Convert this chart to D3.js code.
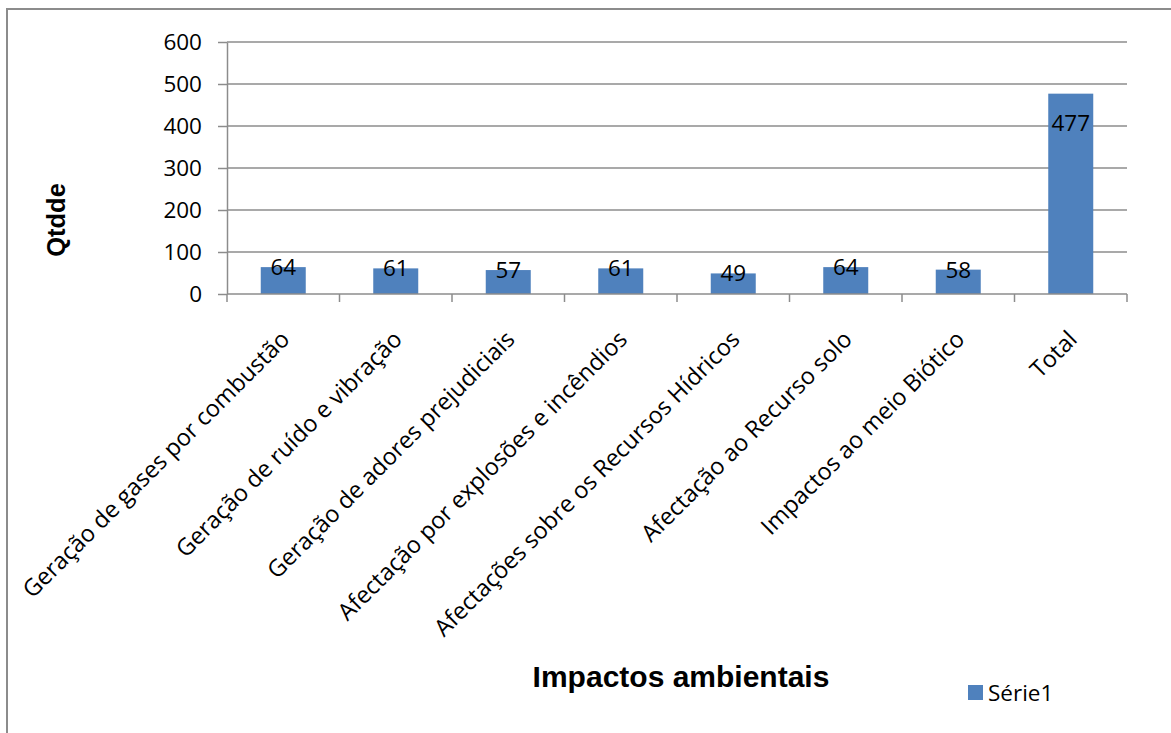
<!DOCTYPE html>
<html>
<head>
<meta charset="utf-8">
<script src="https://cdn.jsdelivr.net/npm/d3@7/dist/d3.min.js"></script>
<style>
  html, body { margin: 0; padding: 0; background: #fff; }
  svg { display: block; }
</style>
</head>
<body>
<svg id="chart" width="1171" height="733"></svg>
<script>
// Categories and values of the chart
const categories = [
  "Geração de gases por combustão",
  "Geração de ruído e vibração",
  "Geração de adores prejudiciais",
  "Afectação por explosões e incêndios",
  "Afectações sobre os Recursos Hídricos",
  "Afectação ao Recurso solo",
  "Impactos ao meio Biótico",
  "Total"
];
const values = [64, 61, 57, 61, 49, 64, 58, 477];
const yTicks = [0, 100, 200, 300, 400, 500, 600];
const seriesName = "Série1";
const xTitle = "Impactos ambientais";
const yTitle = "Qtdde";

const svg = d3.select("#chart");
const W = 1171, H = 733;
const labelFont = "'Open Sans', 'Noto Sans', sans-serif";
const titleFont = "'Liberation Sans', Arial, sans-serif";

// outer frame (runs off the right and bottom edges)
svg.append("rect")
  .attr("x", 7).attr("y", 9)
  .attr("width", W + 20).attr("height", H + 20)
  .attr("fill", "#fff")
  .attr("stroke", "#8c8c8c").attr("stroke-width", 2);

const plot = { left: 227, right: 1127, top: 42, bottom: 294 };

const x = d3.scaleBand()
  .domain(categories)
  .range([plot.left, plot.right])
  .paddingInner(0.6).paddingOuter(0.3);

const y = d3.scaleLinear()
  .domain([0, 600])
  .range([plot.bottom, plot.top]);

// horizontal gridlines
svg.append("g")
  .selectAll("line")
  .data(yTicks.filter(d => d > 0))
  .join("line")
  .attr("x1", plot.left).attr("x2", plot.right)
  .attr("y1", d => y(d)).attr("y2", d => y(d))
  .attr("stroke", "#8c8c8c").attr("stroke-width", 1.5);

// y axis
const yAxis = svg.append("g")
  .attr("transform", `translate(${plot.left},0)`)
  .call(d3.axisLeft(y).tickValues(yTicks).tickSize(9).tickPadding(16).tickSizeOuter(0));
yAxis.select(".domain").attr("stroke", "#8c8c8c").attr("stroke-width", 1.5);
yAxis.selectAll(".tick line").attr("stroke", "#8c8c8c").attr("stroke-width", 1.5);
yAxis.selectAll(".tick text")
  .attr("font-family", labelFont)
  .attr("font-size", 22.5)
  .attr("fill", "#000");

// bars
svg.append("g")
  .selectAll("rect")
  .data(values)
  .join("rect")
  .attr("x", (d, i) => x(categories[i]))
  .attr("y", d => y(d))
  .attr("width", x.bandwidth())
  .attr("height", d => y(0) - y(d))
  .attr("fill", "#4f81bd");

// x axis: baseline and category boundary ticks
const xa = svg.append("g");
xa.append("line")
  .attr("x1", plot.left).attr("x2", plot.right)
  .attr("y1", y(0)).attr("y2", y(0))
  .attr("stroke", "#8c8c8c").attr("stroke-width", 1.5);
xa.selectAll("line.tk")
  .data(d3.range(categories.length + 1))
  .join("line")
  .attr("class", "tk")
  .attr("x1", i => plot.left + i * (plot.right - plot.left) / categories.length)
  .attr("x2", i => plot.left + i * (plot.right - plot.left) / categories.length)
  .attr("y1", y(0)).attr("y2", y(0) + 8)
  .attr("stroke", "#8c8c8c").attr("stroke-width", 1.5);

// value labels
svg.append("g")
  .selectAll("text")
  .data(values)
  .join("text")
  .attr("x", (d, i) => x(categories[i]) + x.bandwidth() / 2)
  .attr("y", d => (y(0) - y(d) > 60 ? y(d) + 29 : y(d)))
  .attr("dy", "0.35em")
  .attr("text-anchor", "middle")
  .attr("font-family", labelFont)
  .attr("font-size", 22.5)
  .attr("fill", "#000")
  .text(d => d);

// rotated category labels
svg.append("g")
  .selectAll("text")
  .data(categories)
  .join("text")
  .attr("transform", d => `translate(${x(d) + x.bandwidth() / 2 + 2},${y(0) + 41}) rotate(-45)`)
  .attr("text-anchor", "end")
  .attr("dy", "0.35em")
  .attr("font-family", labelFont)
  .attr("font-size", 23.5)
  .attr("fill", "#000")
  .text(d => d);

// axis titles
svg.append("text")
  .attr("x", 681).attr("y", 687)
  .attr("text-anchor", "middle")
  .attr("font-family", titleFont)
  .attr("font-weight", "bold")
  .attr("font-size", 30)
  .text(xTitle);

svg.append("text")
  .attr("transform", "translate(65,220) rotate(-90)")
  .attr("text-anchor", "middle")
  .attr("font-family", titleFont)
  .attr("font-weight", "bold")
  .attr("font-size", 25.5)
  .text(yTitle);

// legend
const lg = svg.append("g").attr("transform", "translate(968,685)");
lg.append("rect").attr("width", 15).attr("height", 15).attr("fill", "#4f81bd");
lg.append("text")
  .attr("x", 20).attr("y", 8)
  .attr("dy", "0.35em")
  .attr("font-family", labelFont)
  .attr("font-size", 22.5)
  .attr("fill", "#000")
  .text(seriesName);
</script>
</body>
</html>
